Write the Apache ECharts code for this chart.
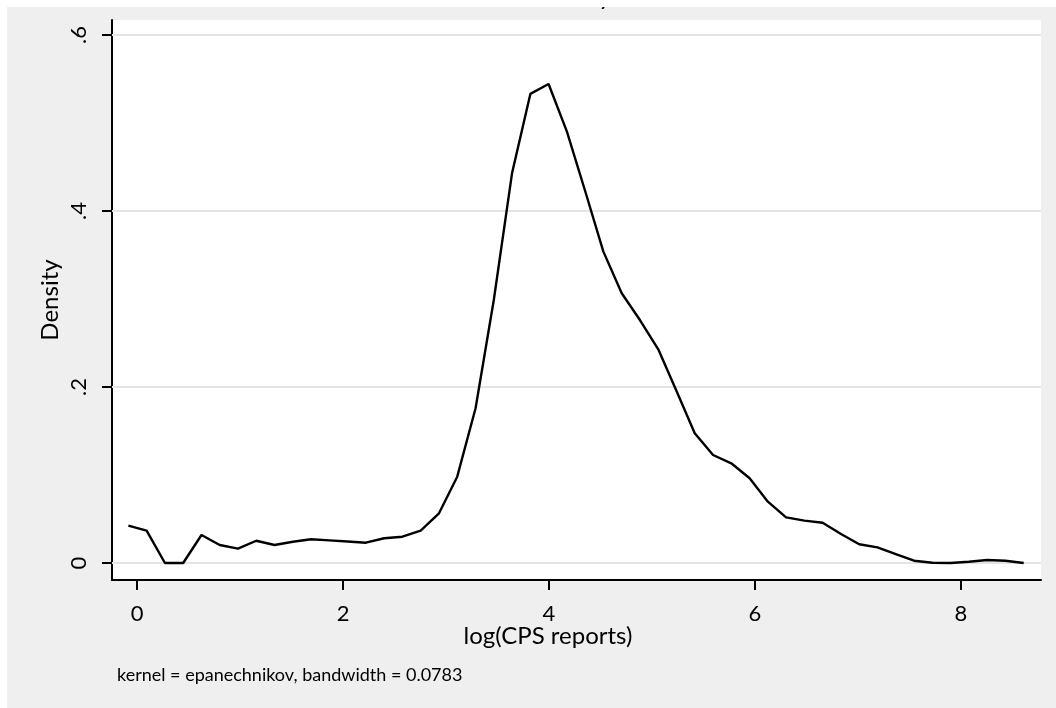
<!DOCTYPE html>
<html>
<head>
<meta charset="utf-8">
<script src="https://cdn.jsdelivr.net/npm/echarts@6/dist/echarts.min.js"></script>
<style>html,body{margin:0;padding:0;background:#efefef;overflow:hidden}#c{width:1056px;height:708px}</style>
</head>
<body>
<div id="c"></div>
<script>
// Evaluation points (log CPS reports)
const xPoints = [-0.084,0.093,0.271,0.448,0.626,0.803,0.980,1.158,1.335,1.513,
  1.690,1.867,2.045,2.222,2.400,2.577,2.754,2.932,3.109,3.287,
  3.464,3.641,3.819,3.996,4.174,4.351,4.528,4.706,4.883,5.061,
  5.238,5.415,5.593,5.770,5.948,6.125,6.302,6.480,6.657,6.835,
  7.012,7.189,7.367,7.544,7.722,7.899,8.076,8.254,8.431,8.609];
// Estimated density
const density = [0.0424,0.0367,0.0,0.0,0.0318,0.0205,0.0163,0.0253,0.0205,0.0242,
  0.0270,0.0257,0.0244,0.0231,0.0281,0.0299,0.0367,0.0565,0.0981,0.1758,
  0.2989,0.4428,0.5330,0.5443,0.4901,0.4227,0.3538,0.3065,0.2761,0.2428,
  0.1955,0.1474,0.1227,0.1133,0.0963,0.0697,0.0519,0.0481,0.0458,0.0330,
  0.0213,0.0178,0.0102,0.0026,0.0003,0.0,0.0015,0.0034,0.0026,0.0];
const xTicks = [0,2,4,6,8];
const xTickLabels = ['0','2','4','6','8'];
const yTicks = [0,0.2,0.4,0.6];
const yTickLabels = ['0','.2','.4','.6'];
const titleText = 'Kernel density estimate';
const xTitle = 'log(CPS reports)';
const yTitle = 'Density';
const noteText = 'kernel = epanechnikov, bandwidth = 0.0783';

const FONT = 'Lato';
const chart = echarts.init(document.getElementById('c'), null, {renderer:'canvas'});
const option = {
  backgroundColor: '#efefef',
  animation: false,
  grid: {left:112, right:15, top:20, bottom:128, show:true, backgroundColor:'#ffffff', borderWidth:0},
  xAxis: {
    type:'value', min:-0.243, max:8.777,
    axisLine:{show:true, onZero:false, lineStyle:{color:'#000', width:2}},
    axisTick:{show:true, customValues:xTicks, length:10, lineStyle:{color:'#000', width:2}},
    axisLabel:{customValues:xTicks, formatter:(v)=>{const i=xTicks.findIndex(t=>Math.abs(t-v)<1e-9);return i>=0?xTickLabels[i]:'';}, color:'#000', fontFamily:FONT, fontSize:22, margin:23},
    splitLine:{show:false}
  },
  yAxis: {
    type:'value', min:-0.0193, max:0.617,
    axisLine:{show:true, onZero:false, lineStyle:{color:'#000', width:2}},
    axisTick:{show:true, customValues:yTicks, length:10, lineStyle:{color:'#000', width:2}},
    axisLabel:{customValues:yTicks, rotate:90, formatter:(v)=>{const i=yTicks.findIndex(t=>Math.abs(t-v)<1e-9);return i>=0?yTickLabels[i]:'';}, color:'#000', fontFamily:FONT, fontSize:22, margin:22},
    splitLine:{show:false}
  },
  series: [
    {type:'line', data:[], z:1, silent:true,
     markLine:{silent:true, z:1, symbol:['none','none'], label:{show:false},
       lineStyle:{color:'#e4e4e4', width:2, type:'solid'},
       data: yTicks.map(v=>({yAxis:v}))}},
    {type:'line', z:6, data: xPoints.map((x,i)=>[x, density[i]]), showSymbol:false, symbol:'none',
     lineStyle:{color:'#000', width:2.4}, silent:true}
  ],
  graphic: [
    {type:'text', z:5, style:{text:titleText, x:460, y:-3, fill:'#000', font:'24px '+FONT, verticalAlign:'middle'}},
    {type:'rect', z:10, shape:{x:0, y:0, width:1056, height:7}, style:{fill:'#ffffff'}},
    {type:'rect', z:10, shape:{x:0, y:0, width:7, height:708}, style:{fill:'#ffffff'}},
    {type:'text', z:5, style:{text:xTitle, x:548, y:636, fill:'#000', font:'24px '+FONT, align:'center', verticalAlign:'middle'}},
    {type:'text', z:5, rotation:Math.PI/2, x:50, y:300, style:{text:yTitle, x:0, y:0, fill:'#000', font:'24px '+FONT, align:'center', verticalAlign:'middle'}},
    {type:'text', z:5, style:{text:noteText, x:117, y:675, fill:'#000', font:'18px '+FONT, align:'left', verticalAlign:'middle'}}
  ]
};
chart.setOption(option);
</script>
</body>
</html>
